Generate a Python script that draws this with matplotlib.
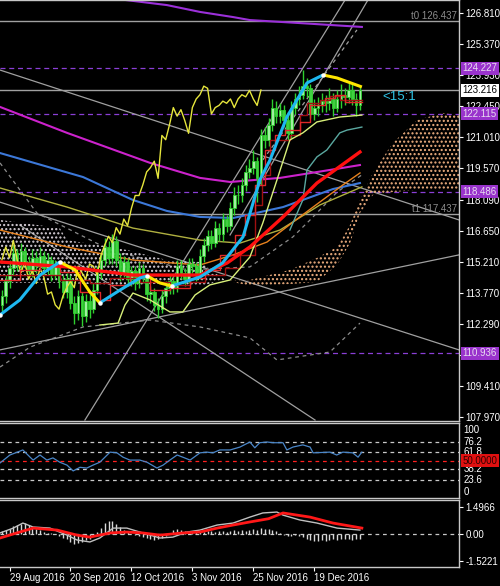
"""
Daily price chart with Ichimoku cloud, moving averages, RSI and MACD panels,
drawn in the dark trading-terminal style.
"""

import matplotlib
matplotlib.use("Agg")
import matplotlib.pyplot as plt
import matplotlib.transforms as mtrans
import numpy as np

# ---------------------------------------------------------------------------
# Data (daily candles, bar index 0 = 25 Aug 2016)
# ---------------------------------------------------------------------------
opens = [113.2, 113.6, 114.3, 114.9, 115.6, 115.1, 115.7, 115.2, 114.8, 115.4,
         115.0, 115.5, 114.9, 115.3, 114.6, 115.0, 114.3, 113.8, 114.4, 113.3,
         112.8, 113.6, 112.7, 113.4, 113.0, 113.9, 114.7, 115.3, 115.9, 115.4,
         116.2, 115.3, 114.7, 115.2, 114.4, 114.8, 114.2, 114.9, 114.5, 113.7,
         113.8, 113.2, 113.0, 113.6, 114.0, 114.3, 114.0, 115.0, 114.7, 114.4,
         115.1, 115.0, 114.6, 115.5, 116.0, 116.4, 116.1, 116.8, 116.5, 117.2,
         116.9, 117.7, 118.3, 118.3, 118.8, 119.4, 119.6, 119.9, 119.1, 121.1,
         120.9, 121.6, 122.4, 122.0, 122.3, 121.8, 121.2, 122.4, 122.8, 123.0,
         123.4, 123.3, 122.1, 122.4, 122.5, 122.7, 122.6, 122.8, 122.4, 122.8,
         123.0, 122.9, 123.2, 122.8, 122.5]
highs = [113.9, 114.6, 115.3, 116.0, 115.8, 116.1, 115.9, 115.5, 115.8, 115.7,
         115.9, 115.7, 115.6, 115.5, 115.3, 115.2, 114.6, 114.7, 114.6, 113.6,
         113.9, 113.8, 113.7, 113.7, 114.2, 115.0, 115.6, 116.3, 116.2, 116.5,
         116.4, 115.6, 115.5, 115.4, 115.0, 115.0, 115.2, 115.1, 114.7, 114.1,
         114.0, 113.5, 113.9, 114.3, 114.6, 114.5, 115.3, 115.3, 114.9, 115.4,
         115.4, 115.2, 115.8, 116.3, 116.7, 116.7, 117.1, 117.0, 117.5, 117.4,
         118.0, 118.7, 118.8, 119.1, 119.7, 120.0, 120.4, 120.1, 121.4, 121.5,
         121.9, 122.8, 122.7, 122.6, 122.5, 122.2, 122.7, 123.1, 123.4, 124.15,
         123.8, 123.5, 122.8, 122.9, 123.1, 123.0, 123.3, 123.1, 123.2, 123.5,
         123.3, 123.6, 123.5, 123.1, 123.4]
lows = [112.9, 113.3, 114.0, 114.6, 114.8, 114.8, 114.9, 114.5, 114.5, 114.7,
        114.8, 114.6, 114.6, 114.3, 114.4, 114.0, 113.5, 113.5, 113.0, 112.3,
        112.5, 112.2, 112.4, 112.6, 112.8, 113.7, 114.4, 115.0, 115.1, 115.1,
        115.0, 114.3, 114.5, 114.1, 114.1, 113.9, 114.0, 114.2, 113.4, 113.3,
        112.9, 112.6, 112.8, 113.3, 113.7, 113.7, 113.8, 114.4, 114.1, 114.2,
        114.7, 114.3, 114.4, 115.2, 115.7, 115.8, 115.9, 116.2, 116.2, 116.6,
        116.7, 117.4, 117.9, 118.0, 118.5, 119.1, 119.3, 118.0, 118.8, 120.5,
        120.6, 121.3, 121.7, 121.7, 121.5, 120.9, 121.0, 122.1, 122.5, 122.8,
        122.9, 121.9, 121.8, 122.0, 122.2, 122.2, 122.3, 122.0, 122.2, 122.4,
        122.5, 122.6, 122.5, 122.0, 122.3]
closes = [113.6, 114.3, 114.9, 115.6, 115.1, 115.7, 115.2, 114.8, 115.4, 115.0,
          115.5, 114.9, 115.3, 114.6, 115.0, 114.3, 113.8, 114.4, 113.3, 112.8,
          113.6, 112.7, 113.4, 113.0, 113.9, 114.7, 115.3, 115.9, 115.4, 116.2,
          115.3, 114.7, 115.2, 114.4, 114.8, 114.2, 114.9, 114.5, 113.7, 113.8,
          113.2, 113.0, 113.6, 114.0, 114.3, 114.0, 115.0, 114.7, 114.4, 115.1,
          115.0, 114.6, 115.5, 116.0, 116.4, 116.1, 116.8, 116.5, 117.2, 116.9,
          117.7, 118.3, 118.3, 118.8, 119.4, 119.6, 119.9, 119.1, 121.1, 120.9,
          121.6, 122.4, 122.0, 122.3, 121.8, 121.2, 122.4, 122.8, 123.0, 123.4,
          123.3, 122.1, 122.4, 122.5, 122.7, 122.6, 122.8, 122.4, 122.8, 123.0,
          122.9, 123.2, 122.8, 122.5, 123.216]
chikou_shift = 26

# moving averages, (bar, price) vertices
ma_purple_x = [25.7, 32.3, 43.3, 52, 60.7, 65.1, 78.2, 94.5]
ma_purple_y = [127.79, 127.42, 127.18, 126.86, 126.62, 126.48, 126.34, 126.16]
ma_magenta_x = [-0.5, 17.1, 38.9, 52, 59.9, 73, 86.1, 94]
ma_magenta_y = [122.43, 121.22, 119.82, 119.12, 118.93, 119.12, 119.49, 119.72]
ma_blue_x = [-0.5, 21.3, 34.4, 43.3, 52, 60.7, 73.8, 86.9, 94]
ma_blue_y = [120.28, 119.16, 118.09, 117.58, 117.30, 117.25, 117.76, 118.6, 118.88]
ma_olive_x = [-0.5, 17.1, 34.4, 52, 62.5, 73, 83.5, 94.5]
ma_olive_y = [118.65, 117.76, 116.78, 116.22, 116.08, 116.69, 117.86, 118.70]
ma_orange_x = [-0.5, 17.1, 34.4, 52, 60.7, 69.6, 78.2, 89.5, 94]
ma_orange_y = [116.69, 115.90, 115.29, 115.06, 115.53, 116.13, 117.30, 118.79, 119.35]
ma_red_x = [-0.5, 17.1, 34.4, 52, 59.1, 65.1, 73.8, 82.7, 94]
ma_red_y = [115.2, 114.97, 114.59, 114.59, 115.15, 115.90, 117.30, 118.88, 120.33]
teal_x = [75.6, 79, 80.1, 82.7, 85.3, 88.7, 90.6, 94.5]
teal_y = [116.69, 118.09, 119.49, 120.1, 120.42, 121.22, 121.35, 121.49]
band_x = [25.7, 30.5, 32.3, 34.4, 38.9, 44.1, 47.5, 50.7, 54.6, 59.9, 65.1,
          68.5, 72.2, 75.6, 79, 82.7, 88.7, 94.5]
band_y = [112.26, 112.35, 113.19, 113.75, 113.43, 112.87, 112.87, 113.66, 114.13,
          114.36, 115.43, 117.02, 119.02, 120.89, 121.22, 121.73, 121.96, 122.05]

# smoothed trend line: rising (cyan) and falling (yellow) legs
hull_up = [
    ([-0.5, 4.7, 10, 15.2], [112.73, 113.43, 114.59, 115.2]),
    ([25.7, 31, 36.2, 38.1], [113.29, 113.89, 114.45, 114.55]),
    ([44.6, 52, 57.9, 63.3, 67.7, 70.4, 74.8, 80.1, 84.3],
     [114.08, 114.5, 115.15, 116.37, 119.02, 119.96, 121.96, 123.55, 123.92]),
]
hull_down = [
    ([15.2, 19.2, 23.1, 25.7], [115.2, 114.83, 113.8, 113.29]),
    ([38.1, 41.5, 44.6], [114.55, 114.22, 114.08]),
    ([84.3, 88, 94.5], [123.92, 123.78, 123.36]),
]

# Ichimoku base / conversion lines
kijun_x = [-0.5, 10, 15.2, 23.1, 28.4, 36.2, 44.1, 49.4, 53.3, 58.6, 62.5, 66.4,
           68.3, 70.4, 75.6, 78.2, 80.1, 83.5, 86.1, 88.7, 94.5]
kijun_y = [114.59, 114.59, 114.36, 114.22, 114.45, 114.27, 114.13, 114.27, 114.59,
           114.92, 115.53, 117.86, 119.26, 120.89, 121.12, 122.05, 122.61, 122.75,
           122.94, 122.75, 122.75]
tenkan_x = [-0.5, 4.7, 10, 15.2, 20.5, 25.7, 28.4, 33.6, 38.9, 44.1, 49.4, 53.3,
            57.2, 61.2, 63.8, 66.4, 69.1, 71.7, 74.3, 78.2, 80.9, 84.8, 87.4,
            90.1, 94.5]
tenkan_y = [114.36, 114.83, 115.06, 114.73, 113.8, 113.43, 114.13, 114.59, 113.89,
            113.99, 114.45, 114.83, 115.53, 116.46, 117.39, 118.79, 120.42, 121.12,
            121.35, 121.73, 122.52, 122.85, 122.99, 122.66, 122.66]

# cloud (bar, span top, span bottom)
kumo_dn_x = [-0.5, 15.2, 17.1, 32.8, 43.3, 52, 58.6]
kumo_dn_top = [117.16, 116.78, 116.22, 115.76, 115.29, 115.2, 114.36]
kumo_dn_bot = [114.22, 114.22, 114.22, 114.08, 114.22, 114.08, 114.36]
kumo_up_x = [58.6, 65.1, 75.6, 82.7, 88, 91.4, 94, 97.4, 102.6, 109, 115.8, 120]
kumo_up_top = [114.36, 114.36, 114.83, 115.39, 115.9, 116.92, 118.09, 119.35,
               120.75, 121.82, 122.15, 122.05]
kumo_up_bot = [114.36, 114.08, 114.17, 114.27, 115.06, 116.08, 117.48, 118.32,
               118.46, 118.56, 118.56, 118.56]

# envelope (dashed)
env_hi_x = [-0.5, 9.2, 28.4, 48.6, 65.1, 76.4, 80.9, 88, 94.5]
env_hi_y = [119.82, 117.48, 115.76, 114.83, 114.97, 116.37, 117.16, 118.46, 119.26]
env_lo_x = [-0.5, 7.4, 21.3, 38.9, 52, 65.1, 72.2, 86.1, 94]
env_lo_y = [110.3, 111.23, 112.17, 112.49, 112.17, 111.66, 110.63, 111.0, 112.35]

# hand-drawn trend lines (two anchor points each)
trend_lines = [
    ((-0.5, 120), (124.15, 117.16)),
    ((-0.5, 120), (117.99, 111.10)),
    ((4.7, 82.2), (116.92, 107.83)),
    ((-0.5, 120), (111.10, 115.53)),
    ((21.8, 90.1), (107.83, 127.42)),
    ((59.9, 96.1), (116.46, 127.42)),
]
channel_mid = ((68.5, 93.2), (119.96, 126.02))

# horizontal levels
level_t0, level_t1 = 126.437, 117.437
level_last = 123.216
purple_levels = [124.227, 122.115, 118.486, 110.936]
price_ticks = [126.810, 125.370, 123.930, 122.450, 121.010, 119.570, 118.090,
               116.650, 115.210, 113.770, 112.290, 110.850, 109.410, 107.970]
hidden_ticks = [110.850]   # covered by the 110.936 level label

# RSI
rsi_x = [-0.5, 2.1, 5.5, 7.4, 8.2, 10, 11.8, 13.4, 15.2, 17.1, 18.7, 20.5, 22.3,
         23.9, 25.7, 28.4, 30.2, 31.8, 33.6, 36.2, 38.1, 40.7, 42.3, 44.1, 46,
         47.5, 49.4, 52, 53.8, 55.4, 57.2, 59.9, 62.5, 65.1, 66.4, 67.7, 69.6,
         71.2, 73.8, 74.8, 76.4, 79, 80.9, 81.7, 86.1, 87.9, 89.5, 92.1, 93.5, 94.5]
rsi_y = [47, 58, 65, 55, 51, 58, 51, 54, 48, 44, 36, 41, 40, 44, 48, 62, 61, 55,
         51, 51, 48, 40, 44, 51, 58, 55, 51, 61, 62, 61, 65, 65, 69, 76, 68, 75,
         76, 75, 75, 65, 69, 72, 69, 61, 62, 58, 62, 61, 55, 62]
rsi_levels = [76.2, 61.8, 38.2, 23.6]

# MACD
macd_hist = [0.15, 0.2, 0.3, 0.45, 0.5, 0.55, 0.6, 0.5, 0.35, 0.3,
             0.2, 0.1, 0.05, 0.05, 0.0, -0.1, -0.2, -0.3, -0.45, -0.55,
             -0.5, -0.45, -0.35, -0.25, -0.1, 0.1, 0.35, 0.6, 0.75, 0.7,
             0.55, 0.4, 0.25, 0.1, 0.0, -0.05, -0.1, -0.15, -0.2, -0.3,
             -0.35, -0.3, -0.2, -0.1, 0.05, 0.2, 0.3, 0.25, 0.15, 0.1,
             0.1, 0.15, 0.15, 0.1, 0.15, 0.15, 0.1, 0.15, 0.15, 0.1,
             0.15, 0.2, 0.15, 0.2, 0.15, 0.25, 0.3, 0.2, 0.35, 0.3,
             0.3, 0.2, 0.15, 0.05, -0.05, -0.1, -0.1, -0.05, -0.1, -0.15,
             -0.3, -0.35, -0.4, -0.4, -0.35, -0.4, -0.35, -0.3, -0.35, -0.3,
             -0.3, -0.25, -0.35, -0.3, -0.25]
macd_x = [-0.5, 3, 5.5, 8.2, 12.6, 17.1, 19.7, 23.1, 25.7, 29.2, 32.8, 37, 41.5,
          44.9, 48.6, 52, 56.5, 60.7, 65.1, 68.5, 72.2, 73.8, 78.2, 82.7, 88, 94]
macd_y = [0.06, 0.33, 0.61, 0.39, 0.33, -0.06, -0.33, -0.44, -0.22, 0.33, 0.33,
          0.06, -0.22, -0.17, 0.11, 0.22, 0.5, 0.61, 0.94, 1.17, 1.22, 1.05, 0.78,
          0.61, 0.33, 0.22]
signal_x = [-0.5, 4.7, 8.2, 14.5, 19.7, 23.1, 28.4, 32.8, 37, 41.5, 47.5, 52,
            56.5, 60.7, 65.1, 70, 73.8, 80.9, 86.9, 94.5]
signal_y = [-0.22, 0.11, 0.33, 0.22, -0.06, -0.17, 0.06, 0.11, 0.06, -0.06, 0.06,
            0.11, 0.33, 0.5, 0.67, 0.85, 1.17, 0.94, 0.61, 0.33]
macd_ticks = [1.4966, 0.0, -1.5221]
macd_tick_labels = ["1.4966", "0.00", "-1.5221"]

date_pos = [2, 18, 34, 50, 66, 82]
date_labels = ["29 Aug 2016", "20 Sep 2016", "12 Oct 2016", "3 Nov 2016",
               "25 Nov 2016", "19 Dec 2016"]

# ---------------------------------------------------------------------------
# Style
# ---------------------------------------------------------------------------
plt.rcParams.update({
    "font.family": "Liberation Sans",
    "hatch.linewidth": 1.0,
})
FG = "white"
BORDER = "#c8c8c8"
GRAY = "#a0a0a0"
PURPLE = "#8a3fd6"
FS = 7
XLIM = (-0.5, 120)

fig = plt.figure(figsize=(5.0, 5.86), dpi=100, facecolor="black")
ax = fig.add_axes([0, 0.2816, 0.918, 0.7184])
ax_rsi = fig.add_axes([0, 0.1502, 0.918, 0.128])
ax_macd = fig.add_axes([0, 0.0324, 0.918, 0.1143])

for a in (ax, ax_rsi, ax_macd):
    a.set_facecolor("black")
    a.set_xlim(*XLIM)
    a.spines["left"].set_visible(False)
    for s in ("top", "bottom", "right"):
        a.spines[s].set_color(BORDER)
        a.spines[s].set_linewidth(1.0)
    a.yaxis.tick_right()
    a.tick_params(axis="y", colors=FG, labelsize=FS, length=3, pad=1.5, width=0.8)
    a.tick_params(axis="x", colors=FG, labelsize=FS, length=3, pad=1.5, width=0.8)
ax.set_xticks([])
ax_rsi.set_xticks([])


def side_label(a, y, text, fc, tc, zorder=20):
    tr = mtrans.blended_transform_factory(a.transAxes, a.transData)
    a.text(1.008, y, text, transform=tr, ha="left", va="center", fontsize=FS,
           color=tc, zorder=zorder, clip_on=False,
           bbox=dict(boxstyle="square,pad=0.15", fc=fc, ec="none"))


# ---------------------------------------------------------------------------
# Main price panel
# ---------------------------------------------------------------------------
ax.set_ylim(107.785, 127.416)
ax.set_yticks(price_ticks)
ax.set_yticklabels(["" if v in hidden_ticks else f"{v:.3f}" for v in price_ticks])
tr_main = mtrans.blended_transform_factory(ax.transAxes, ax.transData)

# horizontal levels
for lv in (level_t0, level_t1, level_last):
    ax.axhline(lv, color=GRAY, lw=1.0, zorder=1)
for lv in purple_levels:
    ax.axhline(lv, color=PURPLE, lw=0.9, dashes=(4, 3), zorder=1)
ax.text(0.995, level_t0, f"t0 {level_t0:.3f}", transform=tr_main, ha="right",
        va="bottom", fontsize=FS, color="#8c8c8c")
ax.text(0.995, level_t1, f"t1 {level_t1:.3f}", transform=tr_main, ha="right",
        va="bottom", fontsize=FS, color="#8c8c8c")

# trend lines
for xs, ys in trend_lines:
    ax.plot(xs, ys, color=GRAY, lw=0.9, zorder=1.5)
ax.plot(*channel_mid, color=GRAY, lw=0.9, dashes=(3, 3), zorder=1.5)
ax.plot(env_hi_x, env_hi_y, color="#8c8c8c", lw=0.9, dashes=(3, 3), zorder=1.5)
ax.plot(env_lo_x, env_lo_y, color="#8c8c8c", lw=0.9, dashes=(3, 3), zorder=1.5)

# cloud
ax.fill_between(kumo_dn_x, kumo_dn_top, kumo_dn_bot, facecolor="none",
                edgecolor="#d8d0d8", hatch="....", linewidth=0, zorder=1.6)
ax.fill_between(kumo_up_x, kumo_up_top, kumo_up_bot, facecolor="none",
                edgecolor="#f0b080", hatch="....", linewidth=0, zorder=1.6)

# moving averages behind candles
ax.plot(ma_purple_x, ma_purple_y, color="#9b30d9", lw=1.5, zorder=2)
ax.plot(ma_magenta_x, ma_magenta_y, color="#cc22cc", lw=1.5, zorder=2)
ax.plot(ma_blue_x, ma_blue_y, color="#3c78d8", lw=1.5, zorder=2)
ax.plot(ma_olive_x, ma_olive_y, color="#b0b040", lw=1.0, zorder=2)
ax.plot(ma_orange_x, ma_orange_y, color="#e8821e", lw=1.0, zorder=2)
ax.plot(teal_x, teal_y, color="#5aa8a0", lw=1.0, zorder=2)

# candles
bars = np.arange(len(closes))
o, h, l, c = map(np.asarray, (opens, highs, lows, closes))
up = c >= o
ax.vlines(bars, l, h, color="#2ed02e", lw=1.0, zorder=3)
ax.bar(bars[up], (c - o)[up], bottom=o[up], width=0.7, color="#a0f0a0",
       edgecolor="#2ed02e", linewidth=0.6, zorder=3.1)
ax.bar(bars[~up], (o - c)[~up], bottom=c[~up], width=0.7, color="#40d040",
       edgecolor="#2ed02e", linewidth=0.6, zorder=3.1)

# lagging span (close shifted back)
ax.plot(bars[chikou_shift:] - chikou_shift, c[chikou_shift:], color="#e6e63c",
        lw=1.0, zorder=3.2)

# Ichimoku lines and other overlays
ax.plot(kijun_x, kijun_y, color="#a01010", lw=1.0, drawstyle="steps-post", zorder=3.3)
ax.plot(tenkan_x, tenkan_y, color="#e02828", lw=1.0, drawstyle="steps-post", zorder=3.3)
ax.plot(band_x, band_y, color="#d8f07a", lw=1.0, zorder=3.3)
ax.plot(ma_red_x, ma_red_y, color="#ff1010", lw=2.4, zorder=3.4)
for xs, ys in hull_up:
    ax.plot(xs, ys, color="#1eb8f0", lw=2.2, zorder=3.5, solid_capstyle="butt")
for xs, ys in hull_down:
    ax.plot(xs, ys, color="#ffe600", lw=2.2, zorder=3.5, solid_capstyle="butt")
for xs, ys in hull_up:
    ax.plot([xs[0], xs[-1]], [ys[0], ys[-1]], "o", ms=2.2, color="white", zorder=3.6)

ax.text(100, 122.89, "<15:1", color="#2ec4e6", fontsize=9.5, ha="left",
        va="center", zorder=5)

# level labels at the price scale
for lv in purple_levels:
    side_label(ax, lv, f"{lv:.3f}", "#9933cc", "#e8dcf0")
side_label(ax, level_last, f"{level_last:.3f}", "white", "black")

# ---------------------------------------------------------------------------
# RSI panel
# ---------------------------------------------------------------------------
ax_rsi.set_ylim(-1.4, 102.3)
ax_rsi.set_yticks([])
for lv in rsi_levels:
    ax_rsi.axhline(lv, color=BORDER, lw=0.9, dashes=(3, 3))
ax_rsi.axhline(50, color="#ff2020", lw=0.9, dashes=(3, 3))
ax_rsi.plot(rsi_x, rsi_y, color="#4a86c8", lw=0.9)
tr = mtrans.blended_transform_factory(ax_rsi.transAxes, ax_rsi.transData)
ax_rsi.text(1.01, 100, "100", transform=tr, ha="left", va="top", fontsize=FS, color=FG)
ax_rsi.text(1.01, 0, "0", transform=tr, ha="left", va="bottom", fontsize=FS, color=FG)
for lv in rsi_levels:
    ax_rsi.text(1.01, lv, f"{lv:.1f}", transform=tr, ha="left", va="center",
                fontsize=FS, color=FG)
side_label(ax_rsi, 50, "50.0000", "#e01010", "#300000")

# ---------------------------------------------------------------------------
# MACD panel
# ---------------------------------------------------------------------------
ax_macd.set_ylim(-1.83, 1.887)
ax_macd.set_yticks(macd_ticks)
ax_macd.set_yticklabels(macd_tick_labels)
ax_macd.axhline(0, color=BORDER, lw=0.9, dashes=(3, 3))
ax_macd.vlines(bars, 0, macd_hist, color="#d8d8d8", lw=1.0)
ax_macd.plot(macd_x, macd_y, color="#c0c0c0", lw=1.0)
ax_macd.plot(signal_x, signal_y, color="#ff1818", lw=2.0)
ax_macd.set_xticks(date_pos)
ax_macd.set_xticklabels(date_labels)
for t in ax_macd.get_xticklabels():
    t.set_ha("left")

fig.savefig("out.png", dpi=100, facecolor="black")
